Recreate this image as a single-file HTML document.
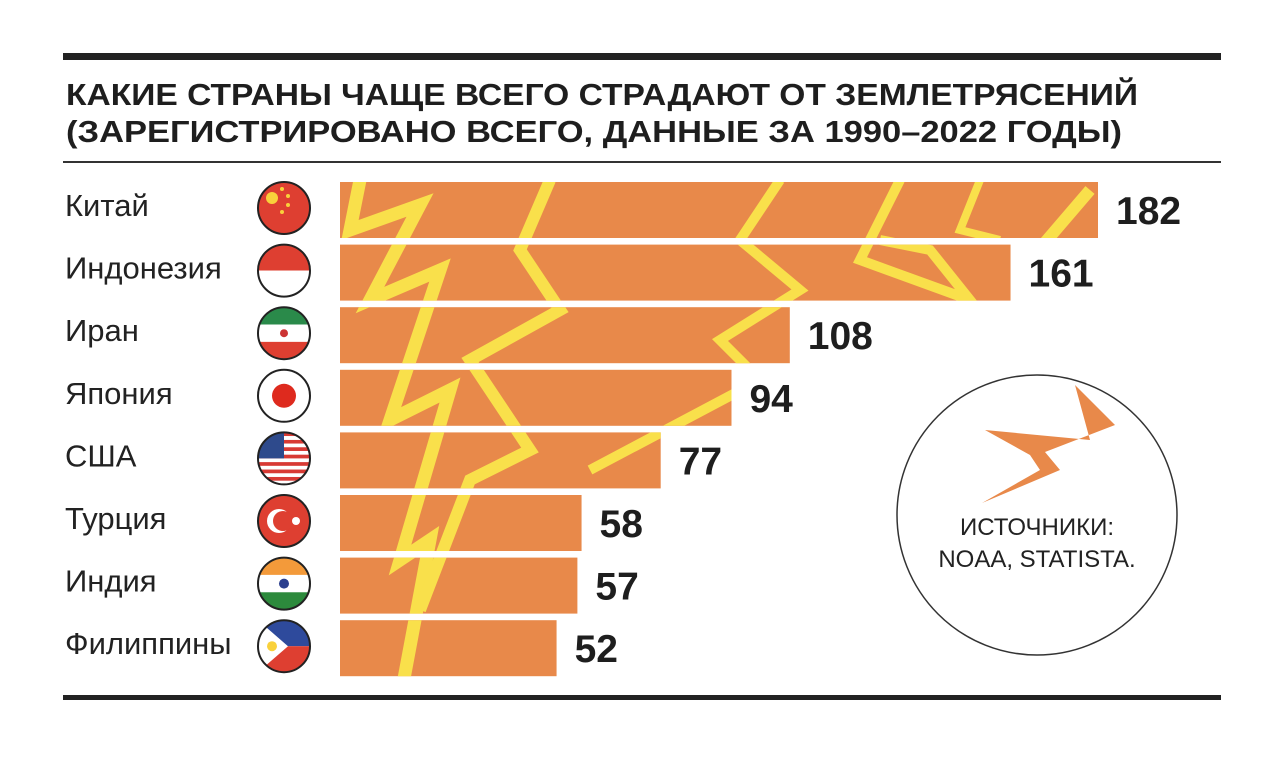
<!DOCTYPE html>
<html><head><meta charset="utf-8"><style>
html,body{margin:0;padding:0;background:#fff;}
svg{display:block;font-family:"Liberation Sans",sans-serif;}
</style></head><body>
<svg id="chart" width="1280" height="757" viewBox="0 0 1280 757">
<rect x="63" y="53" width="1158" height="7" fill="#222"/>
<text x="66" y="105" font-size="31" font-weight="bold" fill="#1e1e1e" textLength="1072" lengthAdjust="spacingAndGlyphs">КАКИЕ СТРАНЫ ЧАЩЕ ВСЕГО СТРАДАЮТ ОТ ЗЕМЛЕТРЯСЕНИЙ</text>
<text x="66" y="142" font-size="31" font-weight="bold" fill="#1e1e1e" textLength="1056" lengthAdjust="spacingAndGlyphs">(ЗАРЕГИСТРИРОВАНО ВСЕГО, ДАННЫЕ ЗА 1990–2022 ГОДЫ)</text>
<rect x="63" y="161" width="1158" height="2" fill="#333"/>
<rect x="63" y="695" width="1158" height="5" fill="#222"/>
<defs><clipPath id="barclip"></clipPath></defs>
<g id="bars"></g>
<g clip-path="url(#barclip)">
<polyline points="360,180 350,230 420,205 370,300 440,270 390,420 450,390 400,560 430,540 400,700" fill="none" stroke="#F9E04B" stroke-width="13"/>
<polyline points="550,180 520,250 560,310 470,360 530,450 470,480 420,610" fill="none" stroke="#F9E04B" stroke-width="12"/>
<polyline points="780,180 740,240 800,290 720,340 760,380 590,470" fill="none" stroke="#F9E04B" stroke-width="10"/>
<polyline points="900,180 860,260 970,300 930,250 880,240" fill="none" stroke="#F9E04B" stroke-width="10"/>
<polyline points="1090,190 1030,260 1080,300" fill="none" stroke="#F9E04B" stroke-width="12"/>
<polyline points="980,180 960,230 1000,240" fill="none" stroke="#F9E04B" stroke-width="8"/>
</g>
<g id="labels"></g>
<circle cx="1037" cy="515" r="140" fill="#fff" stroke="#333" stroke-width="1.5"/>
<polygon points="985,430 1090,440 1075,385 1115,425 1045,452 1060,470 982,503 1040,470 1030,455" fill="#E8894A"/>
<text x="1037" y="535" font-size="24" text-anchor="middle" fill="#222">ИСТОЧНИКИ:</text>
<text x="1037" y="567" font-size="24" text-anchor="middle" fill="#222">NOAA, STATISTA.</text>
</svg>
<script>
const countries=["Китай","Индонезия","Иран","Япония","США","Турция","Индия","Филиппины"];
const values=[182,161,108,94,77,58,57,52];
const x0=340,scale=758/182,top0=182,pitch=62.6,bh=56;
const NS="http://www.w3.org/2000/svg";
const bars=document.getElementById('bars'),labels=document.getElementById('labels'),clip=document.getElementById('barclip');
function xs(v){return x0+v*scale;}
function flag(g,i,cx,cy){
  const r=26;
  const id='fc'+i;
  const cp=document.createElementNS(NS,'clipPath');cp.setAttribute('id',id);
  const cc=document.createElementNS(NS,'circle');cc.setAttribute('cx',cx);cc.setAttribute('cy',cy);cc.setAttribute('r',r);cp.appendChild(cc);g.appendChild(cp);
  const f=document.createElementNS(NS,'g');f.setAttribute('clip-path','url(#'+id+')');
  function rect(y,h,c){const e=document.createElementNS(NS,'rect');e.setAttribute('x',cx-r);e.setAttribute('y',y);e.setAttribute('width',2*r);e.setAttribute('height',h);e.setAttribute('fill',c);f.appendChild(e);}
  function circ(x,y,rr,c){const e=document.createElementNS(NS,'circle');e.setAttribute('cx',x);e.setAttribute('cy',y);e.setAttribute('r',rr);e.setAttribute('fill',c);f.appendChild(e);}
  const T=cy-r,H=2*r;
  if(i===0){rect(T,H,'#DE3F31');circ(cx-12,cy-10,6,'#F9D13B');circ(cx-2,cy-19,2,'#F9D13B');circ(cx+4,cy-12,2,'#F9D13B');circ(cx+4,cy-3,2,'#F9D13B');circ(cx-2,cy+4,2,'#F9D13B');}
  else if(i===1){rect(T,H/2,'#DE3F31');rect(cy,H/2,'#fff');}
  else if(i===2){rect(T,H/3,'#2A8A4A');rect(T+H/3,H/3,'#fff');rect(T+2*H/3,H/3,'#DE3F31');circ(cx,cy,4,'#c33');}
  else if(i===3){rect(T,H,'#fff');circ(cx,cy,12,'#DE2A1E');}
  else if(i===4){for(let k=0;k<7;k++)rect(T+k*H/7,H/14,'#D83A34');rect(T+H/14,H/14,'#fff');const e=document.createElementNS(NS,'rect');e.setAttribute('x',cx-r);e.setAttribute('y',T);e.setAttribute('width',r);e.setAttribute('height',r);e.setAttribute('fill','#2E4A8C');f.appendChild(e);}
  else if(i===5){rect(T,H,'#DE3F31');circ(cx-5,cy,12,'#fff');circ(cx-1,cy,10,'#DE3F31');circ(cx+12,cy,4,'#fff');}
  else if(i===6){rect(T,H/3,'#F39A3A');rect(T+H/3,H/3,'#fff');rect(T+2*H/3,H/3,'#2C8A3C');circ(cx,cy,5,'#2B3F8E');}
  else{rect(T,H/2,'#2E4A9C');rect(cy,H/2,'#DE3F31');const p=document.createElementNS(NS,'polygon');p.setAttribute('points',(cx-r)+','+T+' '+(cx+4)+','+cy+' '+(cx-r)+','+(cy+r));p.setAttribute('fill','#fff');f.appendChild(p);circ(cx-12,cy,5,'#F9D13B');}
  g.appendChild(f);
  const o=document.createElementNS(NS,'circle');o.setAttribute('cx',cx);o.setAttribute('cy',cy);o.setAttribute('r',r);o.setAttribute('fill','none');o.setAttribute('stroke','#222');o.setAttribute('stroke-width','2');g.appendChild(o);
}
countries.forEach((c,i)=>{
  const y=top0+i*pitch, w=xs(values[i])-x0;
  const b=document.createElementNS(NS,'rect');
  b.setAttribute('x',x0);b.setAttribute('y',y);b.setAttribute('width',w);b.setAttribute('height',bh);b.setAttribute('fill','#E8894A');
  
  
  bars.appendChild(b);
  const cr=document.createElementNS(NS,'rect');cr.setAttribute('x',x0);cr.setAttribute('y',y);cr.setAttribute('width',w);cr.setAttribute('height',bh);clip.appendChild(cr);
  const t=document.createElementNS(NS,'text');
  t.setAttribute('x',65);t.setAttribute('y',y+34);t.setAttribute('font-size','31');t.setAttribute('fill','#222');t.textContent=c;
  
  
  labels.appendChild(t);
  const v=document.createElementNS(NS,'text');
  v.setAttribute('x',xs(values[i])+18);v.setAttribute('y',y+42);v.setAttribute('font-size','39');v.setAttribute('font-weight','bold');v.setAttribute('fill','#1e1e1e');v.textContent=values[i];
  
  
  labels.appendChild(v);
  const g=document.createElementNS(NS,'g');
  
  
  flag(g,i,284,y+26);
  labels.appendChild(g);
});
</script>
</body></html>
